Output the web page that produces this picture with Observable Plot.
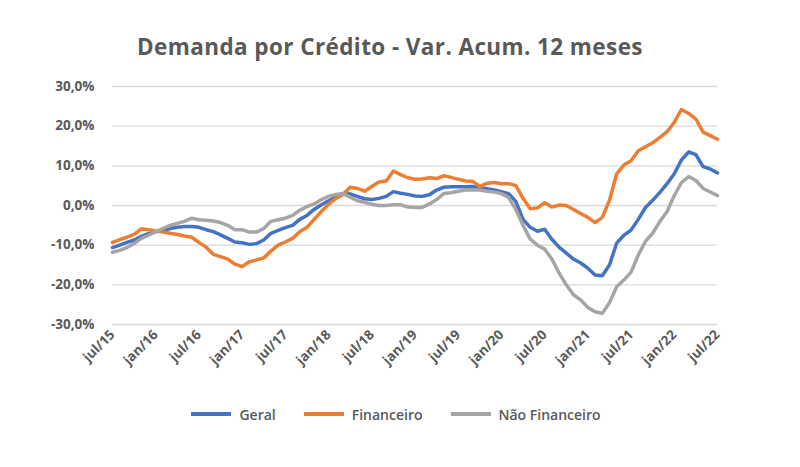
<!DOCTYPE html>
<html>
<head>
<meta charset="utf-8">
<script src="https://cdn.jsdelivr.net/npm/d3@7"></script>
<script src="https://cdn.jsdelivr.net/npm/@observablehq/plot@0.6"></script>
<style>
  body { margin: 0; background: #fff; font-family: "Open Sans", sans-serif; }
  #wrap { width: 800px; height: 467px; position: relative; }
  #title { height: 70px; line-height: 94px; text-align: center; font-size: 22.5px; font-weight: bold; color: #595959; letter-spacing: 0.4px; padding-right: 20px; box-sizing: border-box; }
  #legend { display: flex; justify-content: center; align-items: center; height: 28px; font-size: 14px; color: #595959; font-weight: 600; padding-right: 8px; }
  .item { display: flex; align-items: center; margin: 0 14px; }
  .sw { width: 40px; height: 4px; margin-right: 8px; }
</style>
</head>
<body>
<div id="wrap">
  <div id="title">Demanda por Crédito - Var. Acum. 12 meses</div>
  <div id="chart"></div>
  <div id="legend"></div>
</div>
<script>
// Monthly points jul/15 ... jul/22 (85 months), index 0..84
const tickLabels = ["jul/15","jan/16","jul/16","jan/17","jul/17","jan/18","jul/18","jan/19","jul/19","jan/20","jul/20","jan/21","jul/21","jan/22","jul/22"];
const seriesNames = ["Geral", "Financeiro", "Não Financeiro"];
const seriesColors = ["#4472C4", "#ED7D31", "#A5A5A5"];

const geral = [
  -10.6,-10.0,-9.3,-8.7,-7.8,-7.1,-6.6,-6.3,-5.8,-5.5,-5.3,-5.3,-5.5,-6.1,-6.6,-7.4,-8.3,-9.2,-9.4,-9.8,
  -9.6,-8.7,-7.0,-6.3,-5.6,-5.0,-3.5,-2.5,-1.0,0.2,1.2,2.1,3.0,2.9,2.3,1.7,1.5,1.8,2.3,3.5,
  3.1,2.8,2.4,2.3,2.7,3.9,4.6,4.7,4.7,4.7,4.8,4.5,4.2,3.9,3.5,3.0,1.0,-3.5,-5.5,-6.5,
  -6.0,-8.5,-10.5,-12.0,-13.5,-14.5,-15.8,-17.5,-17.7,-15.0,-9.5,-7.5,-6.2,-3.5,-0.5,1.3,3.3,5.5,8.0,11.5,
  13.5,12.8,9.8,9.2,8.2
];
const financeiro = [
  -9.3,-8.6,-8.0,-7.3,-5.9,-6.1,-6.4,-6.7,-7.0,-7.3,-7.7,-8.0,-9.3,-10.5,-12.3,-12.9,-13.5,-14.8,-15.4,-14.2,
  -13.7,-13.2,-11.5,-10.0,-9.2,-8.3,-6.6,-5.5,-3.5,-1.5,0.3,1.8,2.8,4.6,4.3,3.6,4.8,5.9,6.2,8.7,
  7.8,7.0,6.6,6.7,7.0,6.8,7.5,7.1,6.6,6.2,6.1,4.8,5.6,5.8,5.5,5.5,5.0,1.8,-0.8,-0.6,
  0.7,-0.4,0.1,0.0,-1.0,-2.0,-3.0,-4.3,-3.0,1.3,8.0,10.2,11.3,13.8,14.8,15.8,17.2,18.6,21.0,24.2,
  23.2,21.8,18.5,17.6,16.7
];
const naoFinanceiro = [
  -11.8,-11.3,-10.6,-9.6,-8.3,-7.5,-6.6,-5.8,-5.0,-4.5,-4.0,-3.2,-3.6,-3.7,-3.9,-4.3,-5.0,-6.1,-6.1,-6.7,
  -6.7,-5.8,-4.0,-3.6,-3.2,-2.5,-1.2,-0.3,0.4,1.5,2.3,2.8,3.0,2.1,1.2,0.8,0.3,0.0,0.0,0.2,
  0.2,-0.4,-0.5,-0.5,0.4,1.5,3.0,3.2,3.6,3.9,4.0,3.9,3.6,3.4,3.0,2.0,-1.0,-5.0,-8.5,-10.0,
  -11.0,-13.5,-17.0,-20.0,-22.5,-23.8,-25.7,-26.8,-27.2,-24.5,-20.5,-18.8,-16.8,-12.5,-9.0,-7.0,-4.0,-1.5,2.5,5.8,
  7.3,6.3,4.3,3.4,2.5
];
const yTicks = [-30, -20, -10, 0, 10, 20, 30];

const allSeries = [geral, financeiro, naoFinanceiro];
const rows = [];
allSeries.forEach((vals, s) => vals.forEach((v, i) => rows.push({i, v, s: seriesNames[s]})));

const fmt = v => v.toFixed(1).replace(".", ",") + "%";

const chart = Plot.plot({
  width: 800,
  height: 330,
  marginLeft: 112,
  marginRight: 83,
  marginTop: 16,
  marginBottom: 76,
  style: { fontFamily: "Open Sans, sans-serif", fontSize: "13.5px", color: "#595959", fontWeight: "bold", background: "transparent" },
  x: { domain: [0, 84], ticks: tickLabels.map((_, k) => k * 6), tickFormat: d => tickLabels[d / 6], tickRotate: -45, tickSize: 0, tickPadding: 8, label: null },
  y: { domain: [-30, 30], ticks: yTicks, tickFormat: fmt, tickSize: 0, tickPadding: 18, label: null },
  color: { domain: seriesNames, range: seriesColors },
  marks: [
    Plot.gridY(yTicks, { stroke: "#D9D9D9", strokeOpacity: 1, strokeWidth: 1.3 }),
    Plot.line(rows, { x: "i", y: "v", z: "s", stroke: "s", strokeWidth: 3.5, curve: "linear", strokeLinejoin: "round" })
  ]
});
document.getElementById("chart").appendChild(chart);

const legend = document.getElementById("legend");
seriesNames.forEach((n, k) => {
  const it = document.createElement("div");
  it.className = "item";
  it.innerHTML = `<div class="sw" style="background:${seriesColors[k]}"></div><span>${n}</span>`;
  legend.appendChild(it);
});
</script>
</body>
</html>
